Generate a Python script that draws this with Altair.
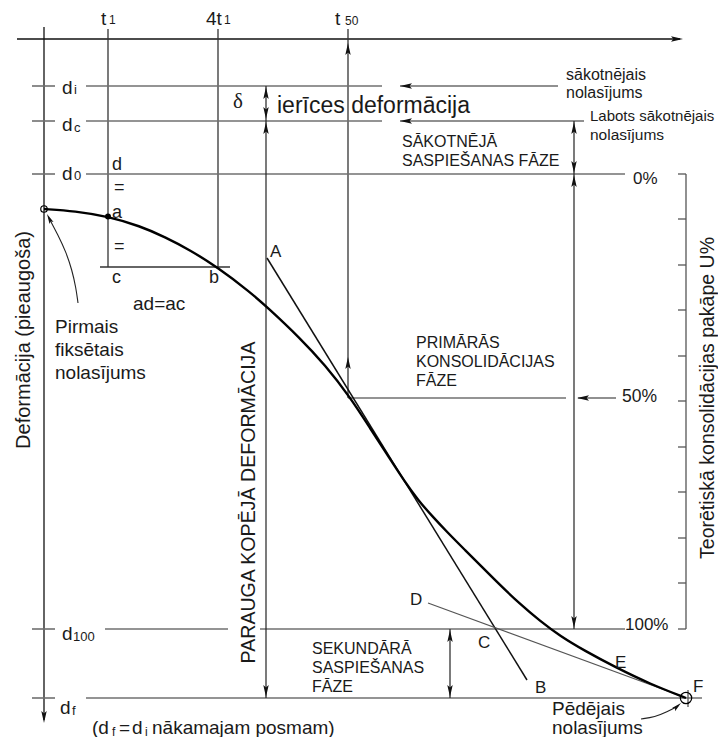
import altair as alt
import pandas as pd

W, H = 710, 729
xs = alt.Scale(domain=[8, 8 + W], nice=False, zero=False)
ys = alt.Scale(domain=[8, 8 + H], nice=False, zero=False, reverse=True)
FONT = "Liberation Sans"

# ---------------- consolidation curve (diagram coordinates) ----------------
curve_x = [44, 75, 108, 140, 165, 190, 217, 250, 267, 300, 325, 350, 370, 390,
           405, 418, 432, 448, 465, 482, 500, 520, 540, 560, 585, 615, 650, 686]
curve_y = [209, 211, 216.5, 226, 237, 250, 267, 292, 307, 338, 365, 397, 428, 459,
           482, 500, 516, 533, 550, 567, 585, 604, 621, 636, 651, 667, 684, 698]

# ---------------- straight segments: x1, y1, x2, y2 ----------------
axis_segs = [(17, 39, 680, 39), (44, 27, 44, 720)]
time_segs = [(108, 29, 108, 267), (218, 29, 218, 267), (348, 29, 348, 398),
             (100, 267, 230, 267)]
level_segs = [(32, 86, 55, 86), (86, 86, 382, 86),
              (32, 121, 55, 121), (86, 121, 382, 121),
              (32, 174, 55, 174), (86, 174, 625, 174),
              (32, 629, 55, 629), (105, 629, 228, 629), (260, 629, 625, 629),
              (32, 698, 55, 698), (86, 698, 702, 698),
              (348, 398, 566, 398)]
arrow_segs = [(400, 86, 558, 86), (400, 121, 584, 121), (578, 398, 616, 398),
              (266, 86, 266, 121), (266, 121, 266, 698),
              (574, 121, 574, 174), (574, 174, 574, 629),
              (450, 629, 450, 698)]
scale_segs = [(686, 174, 686, 629), (688, 690, 688, 707)]
u_ticks_y = [174, 219, 265, 310, 356, 401, 447, 492, 538, 583, 629]
tangent_segs = [(267, 258, 527, 680)]
secondary_segs = [(428, 603, 684, 697)]

rows = []
for group, col, w in [(axis_segs, "#111111", 1.3), (time_segs, "#333333", 1.3),
                      (level_segs, "#707070", 1.6), (arrow_segs, "#222222", 1.2),
                      (scale_segs, "#555555", 1.3), (tangent_segs, "#111111", 1.5),
                      (secondary_segs, "#555555", 1.2)]:
    for (a, b, c, d) in group:
        rows.append(dict(x=a, y=b, x2=c, y2=d, c=col, w=w))
for ty in u_ticks_y:
    rows.append(dict(x=678, y=ty, x2=686, y2=ty, c="#555555", w=1.3))
seg_df = pd.DataFrame(rows)

# ---------------- arrowheads: tip x, tip y, direction (deg, 0 = up) ----------------
head_x = [683, 44, 348, 348, 400, 400, 266, 266, 266, 266, 574, 574, 574, 574, 577, 450, 450]
head_y = [39, 723, 43, 357, 86, 121, 87, 119, 122, 697, 122, 173, 175, 628, 398, 630, 697]
head_a = [90, 180, 0, 0, 270, 270, 0, 180, 0, 180, 0, 180, 0, 180, 270, 0, 180]
head_df = pd.DataFrame(dict(x=head_x, y=head_y, a=head_a))

# pointer arrows ("Pirmais..." and "Pēdējais...")
ptr_id = [1] * 6 + [2] * 4
ptr_x = [78, 76, 72, 66, 58, 49, 641, 655, 667, 678]
ptr_y = [303, 288, 270, 252, 235, 218, 719, 717, 712, 706]
ptr_df = pd.DataFrame(dict(id=ptr_id, i=list(range(len(ptr_x))), x=ptr_x, y=ptr_y))
ptr_head_df = pd.DataFrame(dict(x=[47, 681], y=[214, 703], a=[333, 48]))

# markers
open_df = pd.DataFrame(dict(x=[44, 686], y=[209, 698], s=[42, 130]))
dot_df = pd.DataFrame(dict(x=[108], y=[216.5]))

# ---------------- texts ----------------
txt = [
    ("t", 101, 18.5, 19), ("1", 109, 20, 12),
    ("4t", 206, 18.5, 19), ("1", 224, 20, 12),
    ("t", 335, 18.5, 19), ("50", 345, 20.5, 12),
    ("d", 62, 88.3, 19), ("i", 74, 90, 13),
    ("d", 62, 125, 19), ("c", 74, 127.5, 13),
    ("d", 62, 174.3, 19), ("0", 74, 176, 13),
    ("d", 62, 633.6, 19), ("100", 73, 636.8, 13),
    ("d", 60, 707.6, 19), ("f", 72, 711, 13),
    ("(d", 92, 727.5, 19), ("f", 112, 731.5, 12), ("=", 119, 727.5, 19),
    ("d", 132, 727.5, 19), ("i", 145, 731.5, 12), ("nākamajam posmam)", 152, 727.5, 19),
    ("d", 112, 164.6, 18), ("=", 114, 188, 18), ("a", 112, 212.6, 18),
    ("=", 114, 247, 18), ("c", 112, 277.6, 18), ("b", 209, 277.6, 18),
    ("ad=ac", 133, 304.3, 19),
    ("A", 270, 251.6, 17), ("B", 535, 687.6, 17), ("C", 478, 643, 17),
    ("D", 410, 600, 17), ("E", 615, 663, 17), ("F", 693, 686.6, 17),
    ("Pirmais", 55, 327.3, 19), ("fiksētais", 55, 350.3, 19), ("nolasījums", 55, 373, 19),
    ("ierīces deformācija", 277, 105.5, 23),
    ("sākotnējais", 566, 74.5, 16), ("nolasījums", 566, 93, 16),
    ("Labots sākotnējais", 590, 116, 15), ("nolasījums", 590, 134.5, 15.5),
    ("SĀKOTNĒJĀ", 402, 142, 16), ("SASPIEŠANAS FĀZE", 402, 161, 16),
    ("0%", 633, 179, 17),
    ("PRIMĀRĀS", 416, 343, 16), ("KONSOLIDĀCIJAS", 416, 362, 16), ("FĀZE", 416, 381, 16),
    ("50%", 622, 397.4, 17.5),
    ("100%", 625, 625, 17),
    ("SEKUNDĀRĀ", 312, 648.5, 16), ("SASPIEŠANAS", 312, 668, 16), ("FĀZE", 312, 687, 16),
    ("Pēdējais", 552, 708.5, 19), ("nolasījums", 552, 727.5, 19),
]
txt_df = pd.DataFrame(txt, columns=["t", "x", "y", "s"])

vtxt = [
    ("Deformācija (pieaugoša)", 23.5, 340, 20),
    ("PARAUGA KOPĒJĀ DEFORMĀCIJA", 248.5, 502.5, 19.6),
    ("Teorētiskā konsolidācijas pakāpe U%", 707.5, 398, 19.5),
]
vtxt_df = pd.DataFrame(vtxt, columns=["t", "x", "y", "s"])
delta_df = pd.DataFrame(dict(t=["δ"], x=[233], y=[102], s=[21]))

ARROW = "M0,0L-0.45,2L0,1.6L0.45,2Z"

X = alt.X("x:Q", scale=xs, axis=None)
Y = alt.Y("y:Q", scale=ys, axis=None)

rules = alt.Chart(seg_df).mark_rule().encode(
    x=X, y=Y, x2="x2:Q", y2="y2:Q",
    color=alt.Color("c:N", scale=None),
    strokeWidth=alt.StrokeWidth("w:Q", scale=None),
)

curve = alt.Chart(pd.DataFrame(dict(x=curve_x, y=curve_y, i=range(len(curve_x))))).mark_line(
    interpolate="basis", color="black", strokeWidth=2.4
).encode(x=X, y=Y, order="i:Q")

ptr = alt.Chart(ptr_df).mark_line(interpolate="basis", color="#222222", strokeWidth=1.1).encode(
    x=X, y=Y, detail="id:N", order="i:Q"
)

heads = alt.Chart(head_df).mark_point(
    shape=ARROW, filled=True, color="#111111", opacity=1, size=144, strokeWidth=0
).encode(x=X, y=Y, angle=alt.Angle("a:Q", scale=None))

ptr_heads = alt.Chart(ptr_head_df).mark_point(
    shape=ARROW, filled=True, color="#111111", opacity=1, size=100, strokeWidth=0
).encode(x=X, y=Y, angle=alt.Angle("a:Q", scale=None))

opens = alt.Chart(open_df).mark_point(
    shape="circle", filled=False, color="black", opacity=1, strokeWidth=1.2
).encode(x=X, y=Y, size=alt.Size("s:Q", scale=None))

dots = alt.Chart(dot_df).mark_point(
    shape="circle", filled=True, color="black", opacity=1, size=36
).encode(x=X, y=Y)

texts = alt.Chart(txt_df).mark_text(
    align="left", baseline="middle", font=FONT, color="#1a1a1a"
).encode(x=X, y=Y, text="t:N", size=alt.Size("s:Q", scale=None))

vtexts = alt.Chart(vtxt_df).mark_text(
    align="center", baseline="middle", font=FONT, color="#1a1a1a", angle=270
).encode(x=X, y=Y, text="t:N", size=alt.Size("s:Q", scale=None))

delta = alt.Chart(delta_df).mark_text(
    align="left", baseline="middle", font="Liberation Serif", color="#1a1a1a"
).encode(x=X, y=Y, text="t:N", size=alt.Size("s:Q", scale=None))

chart = alt.layer(
    rules, curve, ptr, heads, ptr_heads, opens, dots, texts, vtexts, delta
).properties(
    width=W, height=H, padding=0, autosize="none", background="white"
).configure_view(stroke=None)

chart.save("out.html", embed_options={"renderer": "svg", "actions": False})
